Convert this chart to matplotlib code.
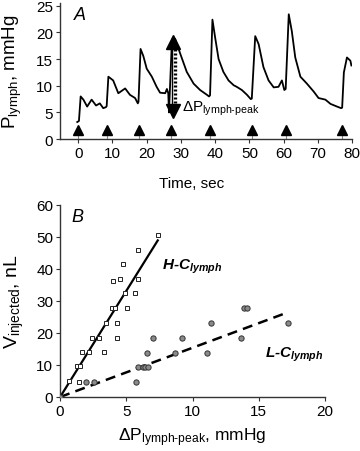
import matplotlib
matplotlib.use("Agg")
import matplotlib.pyplot as plt
import numpy as np

plt.rcParams['font.family'] = ['Liberation Sans', 'DejaVu Sans']
plt.rcParams['mathtext.fontset'] = 'custom'
plt.rcParams['mathtext.rm'] = 'Liberation Sans'
plt.rcParams['mathtext.default'] = 'regular'

# ---- panel A: lymph pressure trace
t_trace = [-0.3, 0.2, 0.7, 1.5, 2.6, 3.9, 5.2, 6.3, 7.3, 8.1, 8.3, 8.8, 10.2, 11.7,
           13.7, 15.1, 16.6, 17.4, 17.6, 18.2, 19.0, 20.0, 21.5, 22.9, 23.9, 25.4,
           25.9, 26.3, 26.5, 27.3, 28.3, 29.8, 31.7, 33.7, 35.6, 37.6, 38.2, 38.5,
           39.2, 40.0, 41.0, 42.4, 43.9, 45.4, 46.3, 47.8, 49.3, 50.4, 50.7, 51.7,
           52.7, 54.1, 55.6, 57.1, 58.5, 59.5, 60.2, 60.6, 61.5, 62.4, 63.4, 64.9,
           66.8, 68.8, 70.2, 72.2, 73.7, 75.6, 76.8, 77.1, 77.6, 78.5, 79.5, 79.8]
p_trace = [3.2, 3.4, 8.0, 7.4, 6.1, 7.4, 6.3, 6.7, 5.8, 6.0, 6.2, 11.7, 11.0, 8.6,
           9.5, 8.3, 7.7, 6.7, 7.0, 16.9, 15.6, 13.2, 11.7, 9.8, 8.7, 8.6,
           9.4, 8.6, 5.0, 17.5, 18.8, 16.0, 12.6, 10.4, 9.2, 8.3, 8.0, 8.2,
           22.4, 19.0, 15.0, 12.6, 11.0, 10.1, 9.8, 9.2, 8.3, 7.5, 7.6, 19.3,
           17.8, 13.5, 11.0, 9.7, 9.8, 11.0, 9.2, 9.4, 23.4, 20.2, 15.3, 11.7,
           10.4, 8.9, 7.7, 7.4, 6.6, 6.1, 5.8, 5.9, 12.5, 15.3, 14.7, 13.8]
inject_t = [0, 8.3, 17.6, 27.0, 38.5, 50.7, 60.7, 77.1]

# ---- panel B: injected volume vs pressure rise
h_dp = [0, 0.68, 1.43, 1.26, 1.5, 1.64, 2.2, 2.44, 2.97, 3.3, 3.47, 4.28, 4.28,
        3.95, 4.15, 5.03, 4.9, 5.66, 3.97, 4.53, 5.9, 4.78, 5.86, 7.37]
h_v = [0, 4.9, 4.7, 9.7, 9.7, 14.0, 14.0, 18.4, 18.4, 14.0, 23.1, 23.1, 18.4,
       27.8, 27.8, 27.8, 32.4, 32.4, 36.2, 36.9, 36.9, 41.4, 46.0, 50.6]
l_dp = [0, 1.94, 2.57, 5.74, 5.86, 6.24, 6.37, 6.67, 6.54, 6.99, 8.68, 9.18,
        11.12, 11.37, 13.66, 13.91, 14.14, 17.23]
l_v = [0, 4.7, 4.7, 4.7, 9.3, 9.3, 9.3, 9.3, 13.8, 18.4, 13.8, 18.4,
       13.8, 23.1, 18.4, 27.8, 27.8, 23.1]
h_fit = ([0, 7.37], [0, 48.9])
l_fit = ([0, 17.23], [0, 26.5])

dp_label = '$\\Delta$P$_{lymph\u2010peak}$'

fig = plt.figure(figsize=(3.6, 4.52), dpi=100)
axA = fig.add_axes([0.167, 0.690, 0.811, 0.301])
axB = fig.add_axes([0.167, 0.1195, 0.736, 0.425])

spine_c = '#333333'
for ax in (axA, axB):
    for s in ('top', 'right'):
        ax.spines[s].set_visible(False)
    for s in ('left', 'bottom'):
        ax.spines[s].set_color(spine_c)
        ax.spines[s].set_linewidth(1.0)
    ax.tick_params(direction='out', length=3, width=0.8, color=spine_c,
                   labelsize=11, pad=2)

# panel A
axA.plot(t_trace, p_trace, color='black', lw=1.3, zorder=2)
axA.vlines(inject_t, 0, 1, color='#888888', lw=0.8, zorder=1)
axA.plot(inject_t, [1.8] * len(inject_t), ls='none', marker='^', ms=7.5,
         color='black', zorder=3)
# delta P arrow
axA.plot([27.4, 27.4], [4.5, 19.0], color='black', lw=1.0, zorder=3)
axA.plot([28.3, 28.3], [6.0, 17.0], color='black', lw=2.4, ls=(0, (0.6, 0.6)),
         zorder=3)
axA.plot([27.8], [18.2], marker='^', ms=10, color='black', zorder=4)
axA.plot([27.8], [5.3], marker='v', ms=10, color='black', zorder=4)
axA.text(30.3, 5.8, dp_label, fontsize=11, va='center', ha='left')
axA.text(-1.2, 23.3, 'A', fontsize=13, style='italic', va='center', ha='left')

axA.set_xlim(-5.3, 80)
axA.set_ylim(0, 25.5)
axA.set_xticks(np.arange(0, 81, 10))
axA.set_yticks(np.arange(0, 26, 5))
axA.set_xlabel('Time, sec', fontsize=11)
axA.xaxis.set_label_coords(0.45, -0.27)
axA.set_ylabel('P$_{lymph}$, mmHg', fontsize=13.5)
axA.yaxis.set_label_coords(-0.125, 0.5)

# panel B
axB.plot(*h_fit, color='black', lw=1.6, zorder=2)
axB.plot(*l_fit, color='black', lw=1.8, ls=(0, (4, 2.5)), zorder=2)
axB.plot(h_dp, h_v, ls='none', marker='s', ms=3.4, mfc='white', mec='#222222',
         mew=0.7, zorder=3)
axB.plot(l_dp, l_v, ls='none', marker='o', ms=3.8, mfc='#8a8a8a', mec='#333333',
         mew=0.7, zorder=3)
axB.text(7.7, 41.0, 'H-C$_{lymph}$', fontsize=11, fontweight='bold',
         style='italic', va='center', ha='left')
axB.text(15.5, 13.6, 'L-C$_{lymph}$', fontsize=11, fontweight='bold',
         style='italic', va='center', ha='left')
axB.text(0.85, 56.5, 'B', fontsize=13, style='italic', va='center', ha='left')

axB.set_xlim(0, 20)
axB.set_ylim(0, 60)
axB.set_xticks(np.arange(0, 21, 5))
axB.set_yticks(np.arange(0, 61, 10))
axB.set_xlabel(dp_label + ', mmHg', fontsize=12.5)
axB.xaxis.set_label_coords(0.5, -0.15)
axB.set_ylabel('V$_{injected}$, nL', fontsize=14)
axB.yaxis.set_label_coords(-0.13, 0.5)

fig.savefig('out.png', dpi=100)
